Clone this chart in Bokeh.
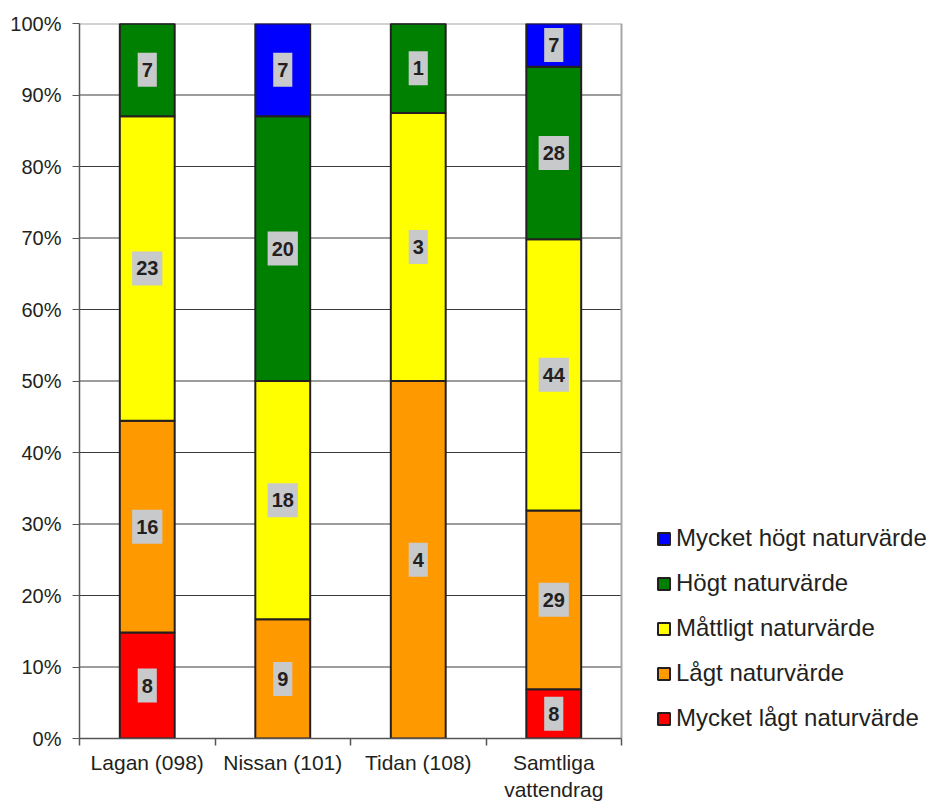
import numpy as np
from bokeh.plotting import figure
from bokeh.models import (ColumnDataSource, FixedTicker, Legend, LegendItem,
                          NumeralTickFormatter, Range1d)
from bokeh.core.properties import value
from bokeh.embed import file_html
from bokeh.resources import INLINE

# Number of river stretches per nature-value class and river
categories = ["Lagan (098)", "Nissan (101)", "Tidan (108)", "Samtliga\nvattendrag"]
series = ["Mycket lågt naturvärde", "Lågt naturvärde", "Måttligt naturvärde",
          "Högt naturvärde", "Mycket högt naturvärde"]
colors = ["#FF0000", "#FF9900", "#FFFF00", "#008000", "#0000FF"]
mycket_lagt = [8, 0, 0, 8]
lagt = [16, 9, 4, 29]
mattligt = [23, 18, 3, 44]
hogt = [7, 20, 1, 28]
mycket_hogt = [0, 7, 0, 7]
y_ticks = [0.0, 0.1, 0.2, 0.3, 0.4, 0.5, 0.6, 0.7, 0.8, 0.9, 1.0]

FONT = "Liberation Sans"
DARK = "#231F20"
FRAME_GRAY = "#A6A6A6"

counts = np.array([mycket_lagt, lagt, mattligt, hogt, mycket_hogt], dtype=float)
totals = counts.sum(axis=0)
shares = counts / totals
tops = np.cumsum(shares, axis=0)
bottoms = tops - shares
n = len(categories)
xs = np.arange(n) + 0.5

# The chart area covers x = 0..n; the remaining width on the right holds the legend.
PLOT_W, CHART_W, LEFT = 931, 542, 79
x_end = n * (PLOT_W - LEFT) / CHART_W

p = figure(width=PLOT_W, height=804, x_range=Range1d(0, x_end), y_range=Range1d(0, 1),
           output_backend="svg", toolbar_location=None,
           min_border_left=LEFT, min_border_right=0, min_border_top=23, min_border_bottom=65)
p.background_fill_color = "white"
p.border_fill_color = "white"
p.outline_line_color = None
p.xgrid.grid_line_color = None
p.ygrid.grid_line_color = None

# y axis
p.yaxis.ticker = FixedTicker(ticks=y_ticks)
p.yaxis.formatter = NumeralTickFormatter(format="0%")
p.yaxis.major_label_text_font = FONT
p.yaxis.major_label_text_font_size = "20px"
p.yaxis.major_label_text_color = DARK
p.yaxis.axis_line_color = "#555555"
p.yaxis.axis_line_width = 1.5
p.yaxis.major_tick_line_color = "#555555"
p.yaxis.major_tick_in = 0
p.yaxis.major_tick_out = 7
p.yaxis.minor_tick_line_color = None
p.yaxis.major_label_standoff = 11

# x axis: labels at bar centres, tick marks at category boundaries
p.xaxis.bounds = (0, n)
p.xaxis.ticker = FixedTicker(ticks=list(xs), minor_ticks=list(range(n + 1)))
p.xaxis.major_label_overrides = {float(x): c for x, c in zip(xs, categories)}
p.xaxis.major_label_text_font = FONT
p.xaxis.major_label_text_font_size = "21px"
p.xaxis.major_label_text_color = DARK
p.xaxis.major_tick_line_color = None
p.xaxis.minor_tick_line_color = "#555555"
p.xaxis.minor_tick_in = 0
p.xaxis.minor_tick_out = 7
p.xaxis.minor_tick_line_width = 1.5
p.xaxis.axis_line_color = "#555555"
p.xaxis.axis_line_width = 1.5
p.xaxis.major_label_standoff = 5

# horizontal gridlines across the chart area only, light grey top and right border
inner = y_ticks[1:-1]
p.segment(x0=[0] * len(inner), x1=[n] * len(inner), y0=inner, y1=inner,
          line_color="#3A3A3A", line_width=1)
p.segment(x0=[0, n], x1=[n, n], y0=[y_ticks[-1], 0], y1=[y_ticks[-1], y_ticks[-1]],
          line_color=FRAME_GRAY, line_width=2)

renderers = []
for i, (name, color) in enumerate(zip(series, colors)):
    src = ColumnDataSource(dict(x=xs, top=tops[i], bottom=bottoms[i]))
    r = p.vbar(x="x", top="top", bottom="bottom", width=0.405, source=src,
               fill_color=color, line_color=DARK, line_width=2)
    renderers.append(r)

# count labels centred in each non-empty segment
lx, ly, lt = [], [], []
for i in range(len(series)):
    for j in range(n):
        if counts[i, j] > 0:
            lx.append(xs[j])
            ly.append((tops[i, j] + bottoms[i, j]) / 2)
            lt.append(str(int(counts[i, j])))
p.text(x=lx, y=ly, text=lt, text_align="center", text_baseline="middle",
       text_font=value(FONT), text_font_size="20px", text_font_style="bold",
       text_color=DARK, background_fill_color="#C8C9CB",
       padding=dict(left=4, right=4, top=10, bottom=10))

legend = Legend(items=[LegendItem(label=series[i], renderers=[renderers[i]])
                       for i in reversed(range(len(series)))],
                location=(577, 6))
legend.label_text_font = FONT
legend.label_text_font_size = "24px"
legend.label_text_color = DARK
legend.glyph_width = 15
legend.glyph_height = 15
legend.label_standoff = 5
legend.label_height = 28
legend.spacing = 17
legend.padding = 0
legend.margin = 0
legend.border_line_color = None
legend.background_fill_alpha = 0
p.add_layout(legend, "center")

open("out.html", "w").write(file_html(p, INLINE))
